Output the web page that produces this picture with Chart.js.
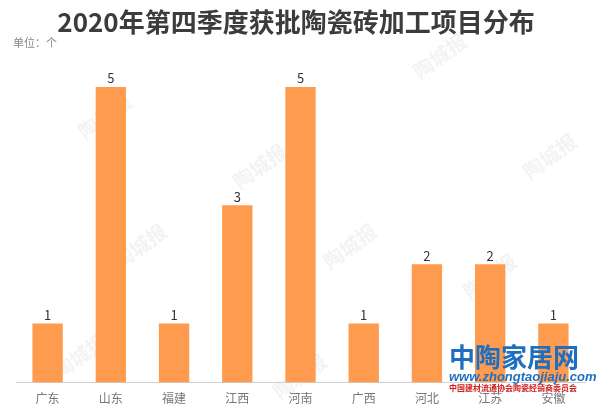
<!DOCTYPE html>
<html><head><meta charset="utf-8">
<script src="https://cdn.jsdelivr.net/npm/chart.js@4/dist/chart.umd.min.js"></script>
<style>html,body{margin:0;padding:0;background:#fff;}#wrap{width:600px;height:417px;position:relative;}</style>
</head><body><div id="wrap"><canvas id="c" width="600" height="417"></canvas></div>
<script>
const categories = ['广东','山东','福建','江西','河南','广西','河北','江苏','安徽'];
const values = [1,5,1,3,5,1,2,2,1];
const titleText = '2020年第四季度获批陶瓷砖加工项目分布';
const unitText = '单位：个';

const overlay = {
  id:'overlay',
  beforeDraw(chart){
    const ctx=chart.ctx;
    ctx.save();
    ctx.fillStyle='rgba(180,180,180,0.16)';
    ctx.font='bold 20px "Noto Sans CJK SC"';
    const marks=[[85,140],[240,190],[420,80],[530,180],[120,270],[330,270],[470,300],[280,400],[60,380]];
    marks.forEach(([x,y])=>{ctx.save();ctx.translate(x,y);ctx.rotate(-Math.PI/5);ctx.fillText('陶城报',0,0);ctx.restore();});
    ctx.restore();
  },
  afterDraw(chart){
    const ctx=chart.ctx;
    ctx.save();
    ctx.fillStyle='#3c3c3c';
    ctx.font='bold 26px "Noto Sans CJK SC"';
    ctx.textAlign='center';ctx.textBaseline='middle';
    ctx.fillText(titleText,296,22);
    ctx.fillStyle='#888';
    ctx.font='11px "Noto Sans CJK SC"';
    ctx.textAlign='left';
    ctx.fillText(unitText,13,43);
    const meta=chart.getDatasetMeta(0);
    ctx.fillStyle='#333';
    ctx.font='13px "Noto Sans CJK SC"';
    ctx.textAlign='center';ctx.textBaseline='bottom';
    meta.data.forEach((bar,i)=>{ctx.fillText(String(values[i]),bar.x,bar.y-2);});
    ctx.fillStyle='#1F6FC0';
    ctx.font='bold 26px "Noto Sans CJK SC"';
    ctx.textAlign='left';ctx.textBaseline='alphabetic';
    ctx.fillText('中陶家居网',449,367);
    ctx.font='italic bold 13px "Liberation Sans"';
    ctx.fillText('www.zhongtaojiaju.com',449,381);
    ctx.fillStyle='#D02020';
    ctx.font='bold 8px "Noto Sans CJK SC"';
    ctx.fillText('中国建材流通协会陶瓷经销商委员会',449,391);
    ctx.restore();
  }
};

new Chart(document.getElementById('c'),{
  type:'bar',
  data:{labels:categories,datasets:[{data:values,backgroundColor:'#FF9B4F',barPercentage:0.48,categoryPercentage:1}]},
  options:{
    responsive:false,animation:false,
    layout:{padding:{left:16,right:15,top:87,bottom:10}},
    plugins:{legend:{display:false},title:{display:false},tooltip:{enabled:false}},
    scales:{
      x:{grid:{display:false},border:{color:'#d0d0d0'},ticks:{color:'#777',font:{size:12,family:'"Noto Sans CJK SC"'},padding:1}},
      y:{display:false,min:0,max:5}
    }
  },
  plugins:[overlay]
});
</script></body></html>
